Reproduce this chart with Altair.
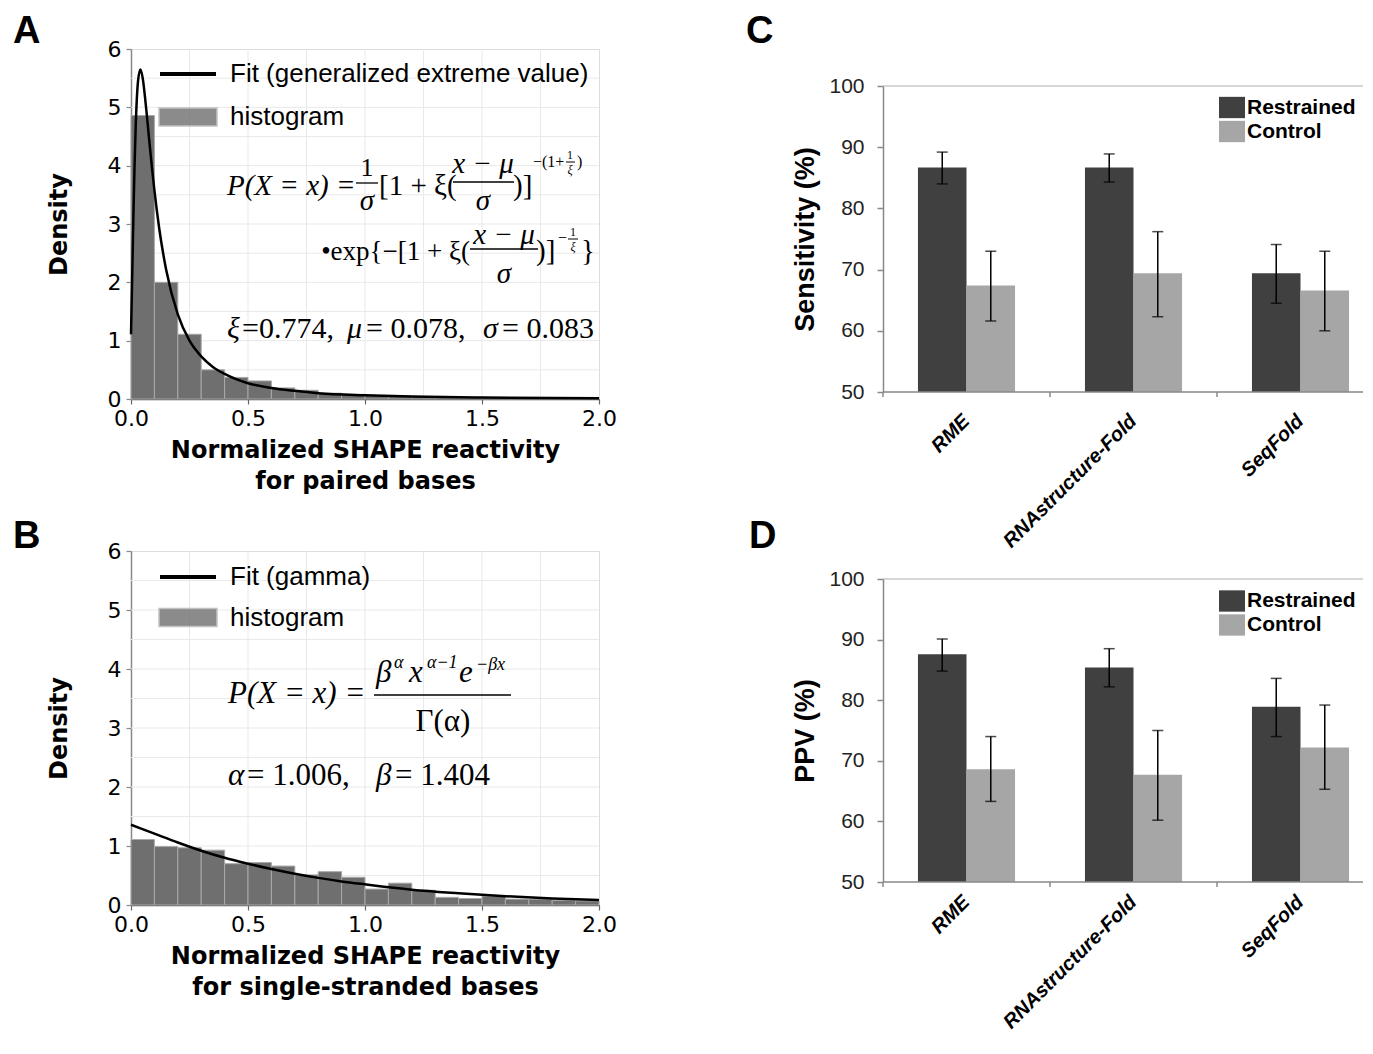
import altair as alt
import pandas as pd

# ---------------- data ----------------
bin_left = [0.0, 0.1, 0.2, 0.3, 0.4, 0.5, 0.6, 0.7, 0.8, 0.9,
            1.0, 1.1, 1.2, 1.3, 1.4, 1.5, 1.6, 1.7, 1.8, 1.9]
bin_right = [0.1, 0.2, 0.3, 0.4, 0.5, 0.6, 0.7, 0.8, 0.9, 1.0,
             1.1, 1.2, 1.3, 1.4, 1.5, 1.6, 1.7, 1.8, 1.9, 2.0]
paired_density = [4.86, 2.00, 1.11, 0.50, 0.37, 0.31, 0.19, 0.15, 0.10, 0.08,
                  0.06, 0.05, 0.04, 0.035, 0.03, 0.025, 0.02, 0.02, 0.015, 0.01]
single_density = [1.11, 0.99, 0.97, 0.93, 0.70, 0.72, 0.66, 0.51, 0.565, 0.47,
                  0.27, 0.37, 0.25, 0.13, 0.11, 0.15, 0.10, 0.10, 0.08, 0.07]

gev_x = [0.0, 0.005, 0.01, 0.015, 0.02, 0.03, 0.04, 0.05, 0.06, 0.07, 0.08, 0.09,
         0.10, 0.12, 0.15, 0.20, 0.25, 0.30, 0.35, 0.40, 0.50, 0.60, 0.70, 0.80,
         1.00, 1.20, 1.50, 2.00]
gev_y = [1.11, 2.08, 3.09, 3.97, 4.66, 5.45, 5.65, 5.50, 5.17, 4.77, 4.35, 3.95,
         3.58, 2.94, 2.22, 1.45, 1.00, 0.73, 0.55, 0.43, 0.27, 0.19, 0.14, 0.10,
         0.064, 0.043, 0.026, 0.014]
gamma_x = [0.0, 0.1, 0.2, 0.3, 0.4, 0.5, 0.6, 0.7, 0.8, 0.9, 1.0, 1.2, 1.4, 1.6, 1.8, 2.0]
gamma_y = [1.36, 1.21, 1.06, 0.92, 0.80, 0.70, 0.61, 0.53, 0.46, 0.40, 0.35,
           0.26, 0.20, 0.15, 0.11, 0.085]

x_grid = [0.25, 0.5, 0.75, 1.0, 1.25, 1.5, 1.75]
y_grid = [0.5, 1.0, 1.5, 2.0, 2.5, 3.0, 3.5, 4.0, 4.5, 5.0, 5.5]
x_ticks = [0.0, 0.5, 1.0, 1.5, 2.0]
y_ticks = [0, 1, 2, 3, 4, 5, 6]

methods = ["RME", "RNAstructure-Fold", "SeqFold"]
series_names = ["Restrained", "Control"]
pct_ticks = [50, 60, 70, 80, 90, 100]

sens_restrained = [86.7, 86.7, 69.4]
sens_restrained_lo = [84.0, 84.3, 64.5]
sens_restrained_hi = [89.2, 88.9, 74.1]
sens_control = [67.4, 69.4, 66.6]
sens_control_lo = [61.6, 62.3, 60.0]
sens_control_hi = [73.0, 76.2, 73.0]

ppv_restrained = [87.6, 85.4, 78.9]
ppv_restrained_lo = [84.8, 82.2, 74.0]
ppv_restrained_hi = [90.1, 88.5, 83.6]
ppv_control = [68.6, 67.7, 72.2]
ppv_control_lo = [63.3, 60.2, 65.3]
ppv_control_hi = [74.0, 75.0, 79.2]

# ---------------- styling helpers ----------------
SANS = "Liberation Sans"
SERIF = "Liberation Serif"
DV = "DejaVu Sans"
one = pd.DataFrame({"k": [0]})


def ann(text, x, y, size, ox, oy, italic=False, align="left", font=SERIF, weight="normal"):
    return alt.Chart(one).mark_text(
        text=text, align=align, baseline="alphabetic", font=font, fontSize=size,
        fontStyle="italic" if italic else "normal", fontWeight=weight, color="black"
    ).encode(x=alt.value(x - ox), y=alt.value(y - oy))


def hbar(x1, x2, y, ox, oy, w=1.3):
    return alt.Chart(one).mark_rule(color="black", strokeWidth=w).encode(
        x=alt.value(x1 - ox), x2=alt.value(x2 - ox), y=alt.value(y - oy))


def hist_panel(dens, cx, cy, fit_label, height, xtitle, leg_line_y, leg_rect_y, extras):
    xsc = alt.Scale(domain=[0, 2], nice=False, zero=False)
    ysc = alt.Scale(domain=[0, 6], nice=False)
    xax = alt.Axis(values=x_ticks, format=".1f", title=xtitle, grid=False, labelFont=DV,
                   labelFontSize=22, labelColor="black", labelPadding=4, labelFlush=False,
                   labelOverlap=False, tickSize=5, tickColor="#666", tickWidth=1.2,
                   domainColor="#555", domainWidth=1.5, titleFont=DV, titleFontSize=24,
                   titleFontWeight="bold", titleColor="black", titlePadding=9,
                   titleLineHeight=31)
    yax = alt.Axis(values=y_ticks, format="d", title="Density", grid=False, labelFont=DV,
                   labelFontSize=22, labelColor="black", labelPadding=5, labelOverlap=False,
                   tickSize=5, tickColor="#888", tickWidth=1.2, domainColor="#888",
                   domainWidth=1.5, titleFont=DV, titleFontSize=24, titleFontWeight="bold",
                   titleColor="black", titlePadding=36)

    gx = alt.Chart(pd.DataFrame({"gx": x_grid})).mark_rule(color="#e9e9e9", strokeWidth=1).encode(
        x=alt.X("gx:Q", scale=xsc, axis=xax))
    gy = alt.Chart(pd.DataFrame({"gy": y_grid})).mark_rule(color="#e9e9e9", strokeWidth=1).encode(
        y=alt.Y("gy:Q", scale=ysc, axis=yax))

    bars_df = pd.DataFrame({"left": bin_left, "right": bin_right, "density": dens,
                            "series": ["histogram"] * len(dens)})
    bars = alt.Chart(bars_df).mark_bar(stroke="#a9a9a9", strokeWidth=1).encode(
        x=alt.X("left:Q", scale=xsc, axis=xax),
        x2="right:Q",
        y=alt.Y("density:Q", scale=ysc, axis=yax),
        y2=alt.datum(0),
        fill=alt.Fill("series:N", scale=alt.Scale(domain=["histogram"], range=["#6f6f6f"]),
                      legend=alt.Legend(orient="none", legendX=27, legendY=leg_rect_y, title=None,
                                        symbolType="M-1,-0.31H1V0.31H-1Z", symbolSize=3364,
                                        symbolStrokeColor="#b4b4b4", symbolStrokeWidth=1.5,
                                        symbolOpacity=0.8, labelFont=SANS, labelFontSize=26,
                                        labelColor="black", labelOffset=12, labelLimit=0,
                                        padding=0)),
    )
    curve_df = pd.DataFrame({"cx": cx, "cy": cy, "series": [fit_label] * len(cx)})
    line = alt.Chart(curve_df).mark_line(strokeWidth=2.5, interpolate="monotone").encode(
        x=alt.X("cx:Q", scale=xsc, axis=xax),
        y=alt.Y("cy:Q", scale=ysc, axis=yax),
        stroke=alt.Stroke("series:N", scale=alt.Scale(domain=[fit_label], range=["black"]),
                          legend=alt.Legend(orient="none", legendX=27, legendY=leg_line_y, title=None,
                                            symbolType="stroke", symbolSize=3136,
                                            symbolStrokeWidth=4, labelFont=SANS, labelFontSize=26,
                                            labelColor="black", labelOffset=12, labelLimit=0,
                                            padding=0)),
    )
    layers = [gx, gy, bars, line] + extras
    return alt.layer(*layers).properties(width=468, height=height)


def bar_panel(r, rlo, rhi, c, clo, chi, ytitle, height, top, leg_y, lab_pad, extras):
    df = pd.DataFrame({
        "method": methods * 2,
        "series": [series_names[0]] * 3 + [series_names[1]] * 3,
        "value": r + c,
        "lo": rlo + clo,
        "hi": rhi + chi,
    })
    mdf = pd.DataFrame({"method": methods})
    xsc = alt.Scale(domain=methods, range=[0, 501], paddingInner=0, paddingOuter=0)
    ysc = alt.Scale(domain=[50, 100], range=[height, top], nice=False, zero=False)
    yax = alt.Axis(values=pct_ticks, title=ytitle, grid=False, labelFont=SANS, labelFontSize=21,
                   labelColor="#222", labelPadding=13, tickSize=6, tickColor="#888", tickWidth=1.5,
                   domainColor="#888", domainWidth=1.5, titleFont=SANS, titleFontSize=27,
                   titleFontWeight="bold", titleColor="black", titlePadding=9)
    xo = alt.XOffset("series:N", scale=alt.Scale(domain=series_names, paddingInner=0, paddingOuter=0.72))
    X = alt.X("method:N", scale=xsc, axis=None, sort=methods)

    top_rule = alt.Chart(one).mark_rule(color="#b0b0b0", strokeWidth=1.2).encode(
        y=alt.Y(datum=100, scale=ysc, axis=yax))
    base_rule = alt.Chart(one).mark_rule(color="#888", strokeWidth=1.5).encode(
        y=alt.Y(datum=50, scale=ysc, axis=yax))
    # category boundary ticks and rotated category labels (bottom axis)
    cat_ticks = alt.Chart(mdf).mark_rule(color="#888", strokeWidth=1.5).encode(
        x=alt.X("method:N", scale=xsc, axis=None, sort=methods, bandPosition=0),
        y=alt.Y(datum=50, scale=ysc, axis=yax),
        y2=alt.value(height + 5))
    cat_labels = alt.Chart(mdf).mark_text(
        angle=315, align="right", baseline="middle", font=SANS, fontSize=20,
        fontWeight="bold", fontStyle="italic", color="black").encode(
        x=alt.X("method:N", scale=xsc, axis=None, sort=methods),
        y=alt.value(height + 5 + lab_pad),
        text="method:N")

    bars = alt.Chart(df).mark_bar().encode(
        x=X, xOffset=xo,
        y=alt.Y("value:Q", scale=ysc, axis=yax),
        y2=alt.datum(50),
        color=alt.Color("series:N", scale=alt.Scale(domain=series_names, range=["#404040", "#a6a6a6"]),
                        legend=alt.Legend(orient="none", legendX=336, legendY=leg_y, title=None,
                                          symbolType="M-1,-0.82H1V0.82H-1Z", symbolSize=676,
                                          symbolStrokeWidth=0, symbolOpacity=1, rowPadding=-4.7,
                                          labelFont=SANS, labelFontSize=21, labelFontWeight="bold",
                                          labelColor="black", labelOffset=2, labelLimit=0,
                                          padding=0)),
    )
    err = alt.Chart(df).mark_rule(color="black", strokeWidth=1.5).encode(
        x=X, xOffset=xo, y=alt.Y("lo:Q", scale=ysc, axis=yax), y2="hi:Q")
    cap_hi = alt.Chart(df).mark_tick(color="black", thickness=1.5, size=11, orient="horizontal").encode(
        x=X, xOffset=xo, y=alt.Y("hi:Q", scale=ysc, axis=yax))
    cap_lo = alt.Chart(df).mark_tick(color="black", thickness=1.5, size=11, orient="horizontal").encode(
        x=X, xOffset=xo, y=alt.Y("lo:Q", scale=ysc, axis=yax))
    layers = [top_rule, bars, err, cap_hi, cap_lo, base_rule, cat_ticks, cat_labels] + extras
    return alt.layer(*layers).properties(width=480, height=height,
                                         view=alt.ViewBackground(stroke="transparent"))


# ---------------- annotations ----------------
AX, AY = 130, 49
a_extra = [
    ann("A", 12, 43, 38, AX, AY, font=SANS, weight="bold"),
    ann("P(X = x) =", 226, 195, 29, AX, AY, italic=True),
    ann("1", 366, 176, 26, AX, AY, align="center"),
    hbar(355, 377, 183, AX, AY),
    ann("σ", 366, 210, 29, AX, AY, italic=True, align="center"),
    ann("[1 + ξ(", 378, 195, 29, AX, AY),
    ann("x − μ", 482, 173, 29, AX, AY, italic=True, align="center"),
    hbar(452, 513, 182, AX, AY),
    ann("σ", 482, 210, 29, AX, AY, italic=True, align="center"),
    ann(")]", 512, 195, 29, AX, AY),
    ann("−(1+", 532, 167, 16, AX, AY),
    ann("1", 569, 159, 12, AX, AY, align="center"),
    hbar(565, 574, 162, AX, AY, w=1),
    ann("ξ", 569, 174, 12, AX, AY, italic=True, align="center"),
    ann(")", 576, 167, 16, AX, AY),
    ann("•exp{−[1 + ξ(", 469, 260, 27, AX, AY, align="right"),
    ann("x − μ", 503, 244, 29, AX, AY, italic=True, align="center"),
    hbar(469, 537, 249, AX, AY),
    ann("σ", 503, 283, 29, AX, AY, italic=True, align="center"),
    ann(")]", 535, 260, 29, AX, AY),
    ann("−", 557, 243, 16, AX, AY),
    ann("1", 572, 236, 12, AX, AY, align="center"),
    hbar(567, 577, 239, AX, AY, w=1),
    ann("ξ", 572, 251, 12, AX, AY, italic=True, align="center"),
    ann("}", 580, 260, 29, AX, AY),
    ann("ξ", 226, 338, 30, AX, AY, italic=True),
    ann("=0.774,", 241, 338, 30, AX, AY),
    ann("μ", 346, 338, 30, AX, AY, italic=True),
    ann("= 0.078,", 365, 338, 30, AX, AY),
    ann("σ", 482, 338, 30, AX, AY, italic=True),
    ann("= 0.083", 501, 338, 30, AX, AY),
]

BX, BY = 130, 551
b_extra = [
    ann("B", 12, 548, 38, BX, BY, font=SANS, weight="bold"),
    ann("P(X = x) =", 227, 703, 31, BX, BY, italic=True),
    ann("β", 375, 682, 31, BX, BY, italic=True),
    ann("α", 393, 668, 18, BX, BY, italic=True),
    ann("x", 408, 682, 31, BX, BY, italic=True),
    ann("α−1", 426, 668, 18, BX, BY, italic=True),
    ann("e", 458, 682, 31, BX, BY, italic=True),
    ann("−βx", 475, 670, 18, BX, BY, italic=True),
    hbar(373, 510, 695, BX, BY),
    ann("Γ(α)", 442, 731, 31, BX, BY, align="center"),
    ann("α", 227, 785, 31, BX, BY, italic=True),
    ann("= 1.006,", 246, 785, 31, BX, BY),
    ann("β", 375, 785, 31, BX, BY, italic=True),
    ann("= 1.404", 394, 785, 31, BX, BY),
]

CX, CY = 882, 49
c_extra = [ann("C", 745, 43, 38, CX, CY, font=SANS, weight="bold")]
DX, DY = 882, 551
d_extra = [ann("D", 748, 548, 38, DX, DY, font=SANS, weight="bold")]

# ---------------- panels ----------------
panel_a = hist_panel(paired_density, gev_x, gev_y, "Fit (generalized extreme value)", 350,
                     ["Normalized SHAPE reactivity", "for paired bases"], -5, 38, a_extra)
panel_b = hist_panel(single_density, gamma_x, gamma_y, "Fit (gamma)", 354,
                     ["Normalized SHAPE reactivity", "for single-stranded bases"], -4, 36.5, b_extra)
panel_c = bar_panel(sens_restrained, sens_restrained_lo, sens_restrained_hi,
                    sens_control, sens_control_lo, sens_control_hi,
                    "Sensitivity (%)", 343, 37, 45.5, 21, c_extra)
panel_d = bar_panel(ppv_restrained, ppv_restrained_lo, ppv_restrained_hi,
                    ppv_control, ppv_control_lo, ppv_control_hi,
                    "PPV (%)", 331, 28, 37, 12, d_extra)

chart = alt.concat(
    panel_a, panel_c, panel_b, panel_d,
    columns=2, spacing={"row": 152, "column": 284}, bounds="flush", align="each",
).resolve_scale(
    fill="independent", stroke="independent", color="independent"
).properties(
    padding={"left": 4, "top": 4, "right": 0, "bottom": 0}
).configure_view(
    stroke="#c4c4c4", strokeWidth=1.2
).configure(
    font=SANS, background="white"
)

chart.save("out.html", embed_options={"renderer": "svg", "actions": False})
